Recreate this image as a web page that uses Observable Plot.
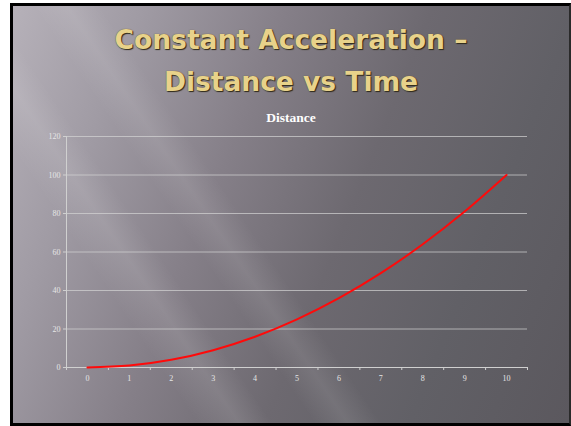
<!DOCTYPE html>
<html>
<head>
<meta charset="utf-8">
<script src="https://cdn.jsdelivr.net/npm/d3@7"></script>
<script src="https://cdn.jsdelivr.net/npm/@observablehq/plot@0.6"></script>
<style>
  html, body { margin: 0; padding: 0; background: #fff; }
  #page { position: relative; width: 571px; height: 426px; overflow: hidden; background: #fff; }
  #slide {
    position: absolute; left: 10px; top: 3px; width: 561px; height: 423px; box-sizing: border-box;
    border-left: 3px solid #000; border-top: 3px solid #000; border-bottom: 3px solid #000; border-right: 2px solid #2a2a2a;
    background:
      linear-gradient(56deg, rgba(255,255,255,0) 22%, rgba(255,255,255,0.10) 27%, rgba(255,255,255,0) 31%, rgba(255,255,255,0) 36%, rgba(255,255,255,0.09) 40%, rgba(255,255,255,0) 44%),
      linear-gradient(112deg, #b6b1b9 0%, #a09ba4 18%, #857f88 38%, #6d6970 58%, #616066 78%, #5b585e 100%);
  }
  #title {
    position: absolute; left: 13px; width: 556px; top: 19px; text-align: center;
    font-family: "DejaVu Sans", sans-serif; font-weight: bold; font-size: 26.5px; line-height: 42px;
    color: #e8d28a;
    text-shadow: 1px 1px 1px #2e2818, 0 0 1px #5a4e2c;
  }
  #ctitle {
    position: absolute; left: 13px; width: 556px; top: 110px; text-align: center;
    font-family: "Liberation Serif", serif; font-weight: bold; font-size: 13.5px; color: #ffffff;
  }
  #chart { position: absolute; left: 0; top: 0; }
</style>
</head>
<body>
<div id="page">
  <div id="slide"></div>
  <div id="title">Constant Acceleration –<br>Distance vs Time</div>
  <div id="ctitle">Distance</div>
  <div id="chart"></div>
</div>
<script>
const times = [0, 1, 2, 3, 4, 5, 6, 7, 8, 9, 10];
const distances = [0, 1, 4, 9, 16, 25, 36, 49, 64, 81, 100];
const yTicks = [0, 20, 40, 60, 80, 100, 120];

const data = times.map((t, i) => ({t, d: distances[i]}));
const xDomain = [times[0] - 0.5, times[times.length - 1] + 0.5];
const bounds = times.map(t => t - 0.5).concat([times[times.length - 1] + 0.5]);

const plot = Plot.plot({
  width: 571,
  height: 426,
  marginLeft: 66,
  marginRight: 44,
  marginTop: 136,
  marginBottom: 59,
  style: { background: "transparent", fontFamily: "'Liberation Serif', serif", fontSize: "8px", color: "#e6e6e6", overflow: "visible" },
  x: { domain: xDomain },
  y: { domain: [0, 120] },
  marks: [
    Plot.gridY(yTicks.filter(v => v > 0), { stroke: "#d4d4d4", strokeOpacity: 0.7, strokeWidth: 1 }),
    Plot.ruleX([xDomain[0]], { stroke: "#d0d0d0", strokeWidth: 1 }),
    Plot.ruleY([0], { stroke: "#d0d0d0", strokeWidth: 1.2 }),
    Plot.axisY(yTicks, { tickSize: 3, tickPadding: 3, stroke: "#d0d0d0", fill: "#e6e6e6", label: null }),
    Plot.axisX(bounds, { tickSize: 3, tickFormat: () => "", stroke: "#d0d0d0", label: null }),
    Plot.axisX(times, { tickSize: 0, tickPadding: 8, fill: "#e6e6e6", label: null }),
    Plot.line(data, { x: "t", y: "d", stroke: "#ff0a0a", strokeWidth: 2, curve: "catmull-rom" })
  ]
});
document.getElementById("chart").appendChild(plot);
</script>
</body>
</html>
